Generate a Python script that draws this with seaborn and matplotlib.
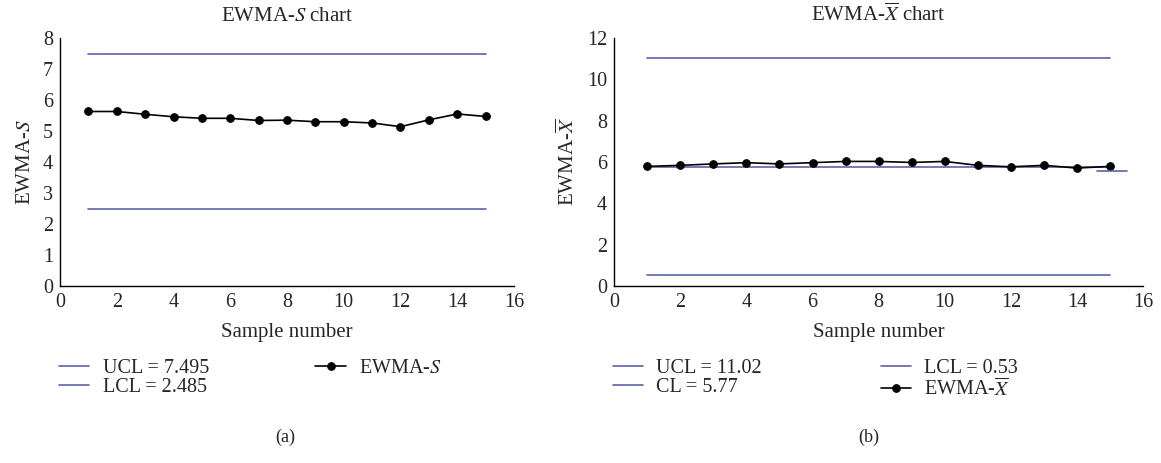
# EWMA-S and EWMA-Xbar control charts, side by side.
import seaborn as sns
import matplotlib.pyplot as plt
import pandas as pd

# data
samples = list(range(1, 16))
ewma_s = [5.63, 5.63, 5.54, 5.46, 5.41, 5.41, 5.34, 5.35, 5.30, 5.30, 5.26, 5.14, 5.36, 5.55, 5.47]
ewma_x = [5.79, 5.84, 5.91, 5.97, 5.91, 5.97, 6.03, 6.03, 5.98, 6.03, 5.84, 5.77, 5.84, 5.71, 5.79]
s_ucl, s_lcl = 7.495, 2.485
x_ucl, x_cl, x_lcl = 11.02, 5.77, 0.53
# stray short segment near the last point of the Xbar chart
stub_x = [14.6, 15.5]
stub_y = [5.58, 5.58]

sns.set_style('white')
plt.rcParams['font.family'] = ['Liberation Serif', 'DejaVu Serif']
plt.rcParams['mathtext.fontset'] = 'stix'

limit_color = '#5d61a8'
fs = 15

df_s = pd.DataFrame({'sample': samples, 'ewma': ewma_s,
                     'ucl': [s_ucl] * len(samples), 'lcl': [s_lcl] * len(samples)})
df_x = pd.DataFrame({'sample': samples, 'ewma': ewma_x, 'ucl': [x_ucl] * len(samples),
                     'cl': [x_cl] * len(samples), 'lcl': [x_lcl] * len(samples)})

fig = plt.figure(figsize=(11.61, 4.63), dpi=100)
ax1 = fig.add_axes([0.0517, 0.382, 0.391, 0.536])
ax2 = fig.add_axes([0.529, 0.382, 0.4556, 0.536])

# (a) EWMA-S
sns.lineplot(data=df_s, x='sample', y='ucl', ax=ax1, color=limit_color, lw=1.2,
             label='UCL = 7.495')
sns.lineplot(data=df_s, x='sample', y='lcl', ax=ax1, color=limit_color, lw=1.2,
             label='LCL = 2.485')
sns.lineplot(data=df_s, x='sample', y='ewma', ax=ax1, color='black', lw=1.2,
             marker='o', markersize=5.5, markeredgecolor='black', label=r'EWMA-$S$')
ax1.set_ylim(0, 8)
ax1.set_yticks(range(0, 9))
ax1.set_ylabel(r'EWMA-$S$', fontsize=fs, labelpad=6)
ax1.set_title(r'EWMA-$S$ chart', fontsize=fs, pad=12)

# (b) EWMA-Xbar
sns.lineplot(data=df_x, x='sample', y='ucl', ax=ax2, color=limit_color, lw=1.2,
             label='UCL = 11.02')
sns.lineplot(data=df_x, x='sample', y='cl', ax=ax2, color=limit_color, lw=1.2,
             label='CL = 5.77')
sns.lineplot(data=df_x, x='sample', y='lcl', ax=ax2, color=limit_color, lw=1.2,
             label='LCL = 0.53')
sns.lineplot(data=df_x, x='sample', y='ewma', ax=ax2, color='black', lw=1.2,
             marker='o', markersize=5.5, markeredgecolor='black',
             label=r'EWMA-$\overline{X}$')
ax2.plot(stub_x, stub_y, color=limit_color, lw=1.2)
ax2.set_ylim(0, 12)
ax2.set_yticks(range(0, 13, 2))
ax2.set_ylabel(r'EWMA-$\overline{X}$', fontsize=fs, labelpad=6)
ax2.set_title(r'EWMA-$\overline{X}$ chart', fontsize=fs, pad=12)

for ax in (ax1, ax2):
    ax.set_xlim(0, 16)
    ax.set_xticks(range(0, 17, 2))
    ax.set_xlabel('Sample number', fontsize=fs, labelpad=8)
    ax.tick_params(labelsize=14.5, length=0, pad=5)
    for side in ('top', 'right'):
        ax.spines[side].set_visible(False)
    for side in ('left', 'bottom'):
        ax.spines[side].set_color('black')
        ax.spines[side].set_linewidth(1.0)
    ax.legend_.remove()

leg_kw = dict(ncol=2, loc='upper left', frameon=False, fontsize=14.5,
              handlelength=1.5, handletextpad=0.65, labelspacing=0.0,
              borderaxespad=0, borderpad=0)
h1, l1 = ax1.get_legend_handles_labels()
fig.legend(h1, l1, bbox_to_anchor=(0.051, 0.225), columnspacing=5.3, **leg_kw)
h2, l2 = ax2.get_legend_handles_labels()
fig.legend(h2, l2, bbox_to_anchor=(0.528, 0.225), columnspacing=5.9, **leg_kw)

fig.text(0.246, 0.045, '(a)', ha='center', fontsize=13)
fig.text(0.748, 0.045, '(b)', ha='center', fontsize=13)

fig.savefig('out.png', dpi=100)
